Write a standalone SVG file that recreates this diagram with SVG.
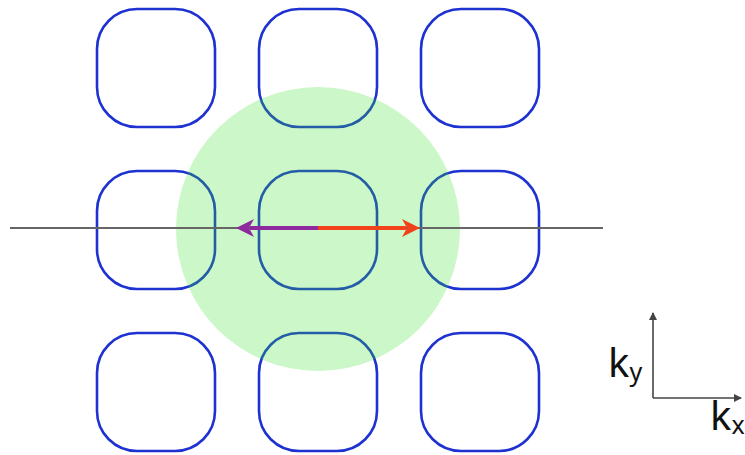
<svg xmlns="http://www.w3.org/2000/svg" width="745" height="455" viewBox="0 0 745 455">
<style>
.cell{fill:none;stroke:#1e32d2;stroke-width:2.6}
.lbl{font-family:"Noto Sans","DejaVu Sans",sans-serif;fill:#111}
.axis{stroke:#444;stroke-width:1.6;fill:none}
</style>
<defs>
<marker id="ah" markerWidth="8" markerHeight="8" refX="7" refY="4" orient="auto" markerUnits="userSpaceOnUse"><path d="M0,0 L8,4 L0,8 Z" fill="#444"/></marker>
</defs>
<rect width="745" height="455" fill="#fff"/>
<g id="lattice">
<g id="cell-0-0"><rect class="cell" x="97" y="9" width="118" height="118" rx="40"/></g>
<g id="cell-0-1"><rect class="cell" x="259" y="9" width="118" height="118" rx="40"/></g>
<g id="cell-0-2"><rect class="cell" x="421" y="9" width="118" height="118" rx="40"/></g>
<g id="cell-1-0"><rect class="cell" x="97" y="171" width="118" height="118" rx="40"/></g>
<g id="cell-1-1"><rect class="cell" x="259" y="171" width="118" height="118" rx="40"/></g>
<g id="cell-1-2"><rect class="cell" x="421" y="171" width="118" height="118" rx="40"/></g>
<g id="cell-2-0"><rect class="cell" x="97" y="333" width="118" height="118" rx="40"/></g>
<g id="cell-2-1"><rect class="cell" x="259" y="333" width="118" height="118" rx="40"/></g>
<g id="cell-2-2"><rect class="cell" x="421" y="333" width="118" height="118" rx="40"/></g>
</g>
<g id="fermi-circle"><circle cx="318" cy="229" r="142" fill="#33df23" fill-opacity="0.25"/></g>
<g id="connectors">
<line x1="10" y1="228" x2="603" y2="228" stroke="#666" stroke-width="2"/>
<line x1="318" y1="228" x2="250" y2="228" stroke="#8e2a9e" stroke-width="4"/>
<path d="M236,228 L254,219 L249,228 L254,237 Z" fill="#8e2a9e"/>
<line x1="318" y1="228" x2="406" y2="228" stroke="#f2421c" stroke-width="4"/>
<path d="M420,228 L402,219 L407,228 L402,237 Z" fill="#f2421c"/>
</g>
<g id="axes">
<line class="axis" x1="653" y1="398" x2="653" y2="313" marker-end="url(#ah)"/>
<line class="axis" x1="653" y1="398" x2="741" y2="398" marker-end="url(#ah)"/>
<text class="lbl" x="608" y="377" font-size="40">k<tspan font-size="25" dy="4">y</tspan></text>
<text class="lbl" x="710" y="430" font-size="40">k<tspan font-size="25" dy="4">x</tspan></text>
</g>
</svg>
